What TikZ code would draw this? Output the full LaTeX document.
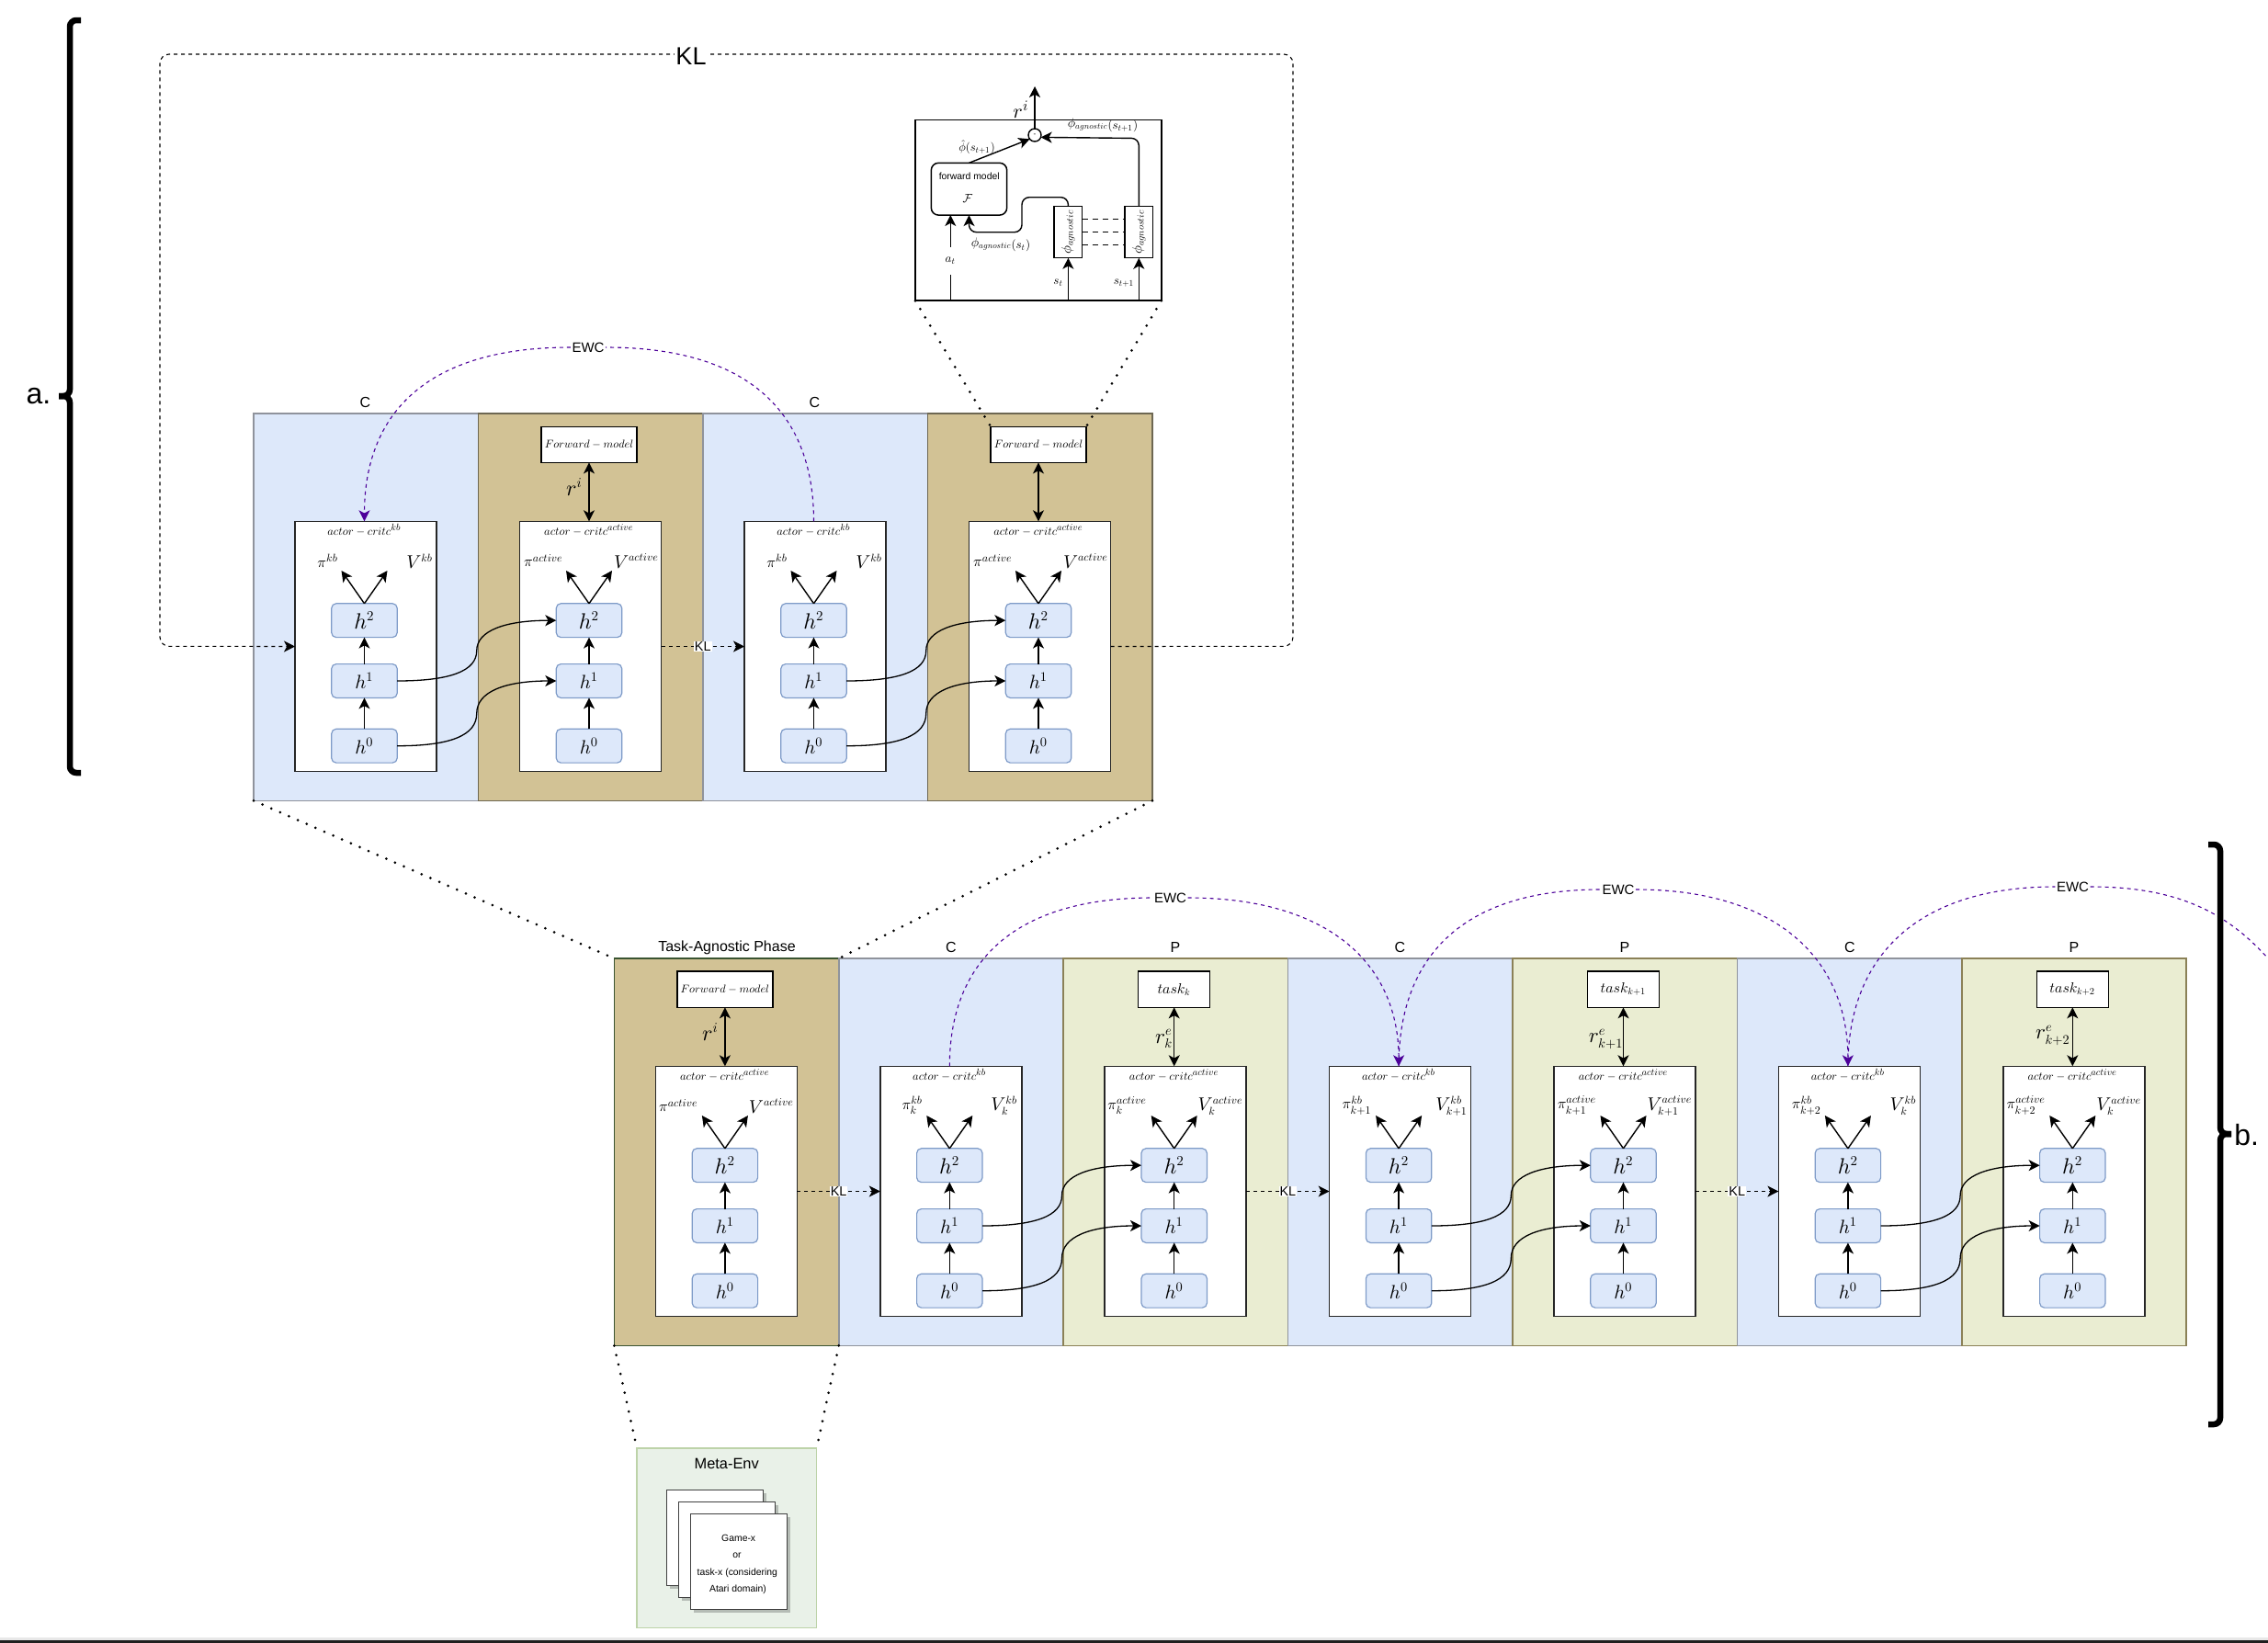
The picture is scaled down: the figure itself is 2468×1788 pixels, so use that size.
\documentclass[tikz,border=0pt]{standalone}
\usepackage{amsmath}
\usepackage[no-math]{fontspec}
\setmainfont{Liberation Sans}
\DeclareFontShape{OML}{cmm}{m}{it}{<->cmmi10}{}
\DeclareFontShape{OMS}{cmsy}{m}{n}{<->cmsy10}{}
\DeclareFontShape{OT1}{cmr}{m}{n}{<->cmr10}{}
\DeclareMathSizes{6.2}{6.2}{5.2}{4}
\DeclareMathSizes{8}{8}{6}{4.5}
\DeclareMathSizes{10}{10}{6}{4.5}
\DeclareMathSizes{10.5}{10.5}{7.2}{5}
\DeclareMathSizes{11.5}{11.5}{7.2}{5}
\DeclareMathSizes{12}{12}{7.5}{6}
\DeclareMathSizes{7.9}{7.9}{5.2}{4}
\DeclareMathSizes{7.5}{7.5}{5.2}{4}
\DeclareMathSizes{7}{7}{4.6}{3.5}
\DeclareMathSizes{6.5}{6.5}{4.7}{3.5}
\DeclareMathSizes{6.3}{6.3}{4.6}{3.5}
\DeclareMathSizes{11}{11}{8}{6}
\usetikzlibrary{arrows.meta,calc}
\definecolor{bandblue}{HTML}{DDE8FA}
\definecolor{bandtan}{HTML}{D2C295}
\definecolor{bandolive}{HTML}{EAEDD2}
\definecolor{strokeblue}{HTML}{8F939C}
\definecolor{stroketan}{HTML}{6D6752}
\definecolor{strokeolive}{HTML}{8B8157}
\definecolor{strokegreen}{HTML}{3A5431}
\definecolor{hstroke}{HTML}{7E9BC8}
\definecolor{ewcpurple}{HTML}{4C0099}
\definecolor{metafill}{HTML}{E9F1E8}
\definecolor{metastroke}{HTML}{BDD3A9}
\newcommand{\myfs}[1]{\fontsize{#1}{#1}\selectfont}
\tikzset{
  x=0.5pt,y=-0.5pt,
  >={Stealth[length=6pt,width=6pt,inset=1.6pt]},
  bandbox/.style={draw,line width=0.75pt,anchor=north west,inner sep=0pt,outer sep=0pt,minimum width=122.2pt,minimum height=210.7pt},
  cband/.style={bandbox,fill=bandblue,draw=strokeblue},
  aband/.style={bandbox,fill=bandtan,draw=stroketan},
  tagband/.style={bandbox,fill=bandtan,draw=strokegreen},
  pband/.style={bandbox,fill=bandolive,draw=strokeolive},
  acbox/.style={draw=black!85,fill=white,line width=0.75pt,anchor=north west,inner sep=0pt,outer sep=0pt,minimum width=77pt,minimum height=136.2pt},
  hbox/.style={draw=hstroke,fill=bandblue,line width=0.6pt,rounded corners=2.5pt,inner sep=0pt,outer sep=0pt,minimum width=35.7pt,minimum height=18.4pt,font=\myfs{10.5}},
  hbig/.style={font=\myfs{12}},
  titlelbl/.style={inner sep=0pt,font=\myfs{6.2}},
  pilbl/.style={inner sep=0pt,font=\myfs{8}},
  vlbl/.style={inner sep=0pt,font=\myfs{10}},
  rlbl/.style={inner sep=0pt,font=\myfs{11.5}},
  rilbl/.style={inner sep=0pt,font=\myfs{12}},
  smallbox/.style={draw=black,fill=white,line width=0.65pt,inner sep=0pt,outer sep=0pt,minimum height=19.6pt},
  fwdbox/.style={smallbox,minimum width=52pt,font=\myfs{6.1}},
  taskbox/.style={smallbox,minimum width=39pt,font=\myfs{7.9}},
  arr/.style={->,line width=0.7pt,black},
  dblarr/.style={<->,line width=0.7pt,black},
  link/.style={->,line width=0.65pt,black},
  dashlink/.style={->,line width=0.55pt,black,dash pattern=on 2pt off 2pt},
  ewc/.style={->,line width=0.55pt,ewcpurple,dash pattern=on 2pt off 2pt},
  ewcplain/.style={line width=0.55pt,ewcpurple,dash pattern=on 2pt off 2pt},
  dots/.style={line width=1.5pt,line cap=round,black,dash pattern=on 0pt off 5.25pt},
  sanslbl/.style={inner sep=0pt,font=\myfs{8}},
  kllbl/.style={fill=white,inner sep=0.5pt,font=\myfs{7.2}},
  ewclbl/.style={fill=white,inner sep=0.6pt,font=\myfs{7.5}},
  icmlbl/.style={inner sep=0pt,font=\myfs{7}},
  icmsmall/.style={inner sep=0pt,font=\myfs{6.5}},
  phibox/.style={draw=black,fill=white,line width=0.7pt,inner sep=0pt,outer sep=0pt,minimum width=15.3pt,minimum height=28.2pt},
  card/.style={draw=black!75,fill=white,line width=0.75pt,anchor=north west,inner sep=0pt,outer sep=0pt,minimum width=52.3pt,minimum height=52.2pt},
  cardshade/.style={fill=black,opacity=0.22,anchor=north west,inner sep=0pt,outer sep=0pt,minimum width=52.3pt,minimum height=52.2pt},
  cardtxt/.style={inner sep=0pt,font=\myfs{5.2}},
  bracestroke/.style={line width=3.25pt,black,rounded corners=3.5pt},
}
% name, band left, band top, band style, title sup, pi label, V label, pi x, V x
\newcommand{\acunit}[9]{%
  \node[#4] (#1b) at (#2,#3) {};
  \node[acbox] (#1a) at (#2+45,#3+117.3) {};
  \coordinate (#1c) at (#2+120.5,#3+117.3);
  \node[hbox,hbig] (#1h2) at (#2+120.5,#3+225.2) {$h^2$};
  \node[hbox] (#1h1) at (#2+120.5,#3+291) {$h^1$};
  \node[hbox] (#1h0) at (#2+120.5,#3+361.7) {$h^0$};
  \draw[arr] (#1h1) -- (#1h2);
  \draw[arr] (#1h0) -- (#1h1);
  \coordinate (#1pl) at (#2+95.5,#3+171);
  \coordinate (#1pr) at (#2+145.5,#3+171);
  \draw[arr] (#1h2.north) -- (#1pl);
  \draw[arr] (#1h2.north) -- (#1pr);
  \node[titlelbl] (#1tt) at (#2+120.5,#3+127) {$actor-critc^{#5}$};
  \node[pilbl] (#1pi) at (#2+#8,#3+160) {$#6$};
  \node[vlbl] (#1v) at (#2+#9,#3+160.5) {$#7$};
}
\newcommand{\crosslink}[2]{%
  \draw[link] (#1h1.east) .. controls +(58,0) and +(0,22) .. ($(#1h1.east)!.5!(#2h2.west)$) .. controls +(0,-22) and +(-55,0) .. (#2h2.west);
  \draw[link] (#1h0.east) .. controls +(58,0) and +(0,24) .. ($(#1h0.east)!.5!(#2h1.west)$) .. controls +(0,-24) and +(-55,0) .. (#2h1.west);
}
\begin{document}
\begin{tikzpicture}
\useasboundingbox (0,0) rectangle (2468,1788);
% bottom screen edge
\fill[black!9] (0,1782) rectangle (2468,1785);
\fill[black!88] (0,1785) rectangle (2468,1788);

% ---------- top row ----------
\acunit{a1}{276}{450}{cband}{kb}{\pi^{kb}}{V^{kb}}{80.7}{180.7}
\acunit{a2}{520.5}{450}{aband}{active}{\pi^{active}}{V^{active}}{71}{172}
\acunit{a3}{765}{450}{cband}{kb}{\pi^{kb}}{V^{kb}}{80.7}{180.7}
\acunit{a4}{1009.5}{450}{aband}{active}{\pi^{active}}{V^{active}}{71}{172}
\node[fwdbox] (a2f) at (520.5+120.5,483.8) {$Forward-model$};
\node[fwdbox] (a4f) at (1009.5+120.5,483.8) {$Forward-model$};
\draw[dblarr] (a2f.south) -- (a2c);
\draw[dblarr] (a4f.south) -- (a4c);
\node[rilbl] (a2r) at (625,530) {$r^i$};
\crosslink{a1}{a2}
\crosslink{a3}{a4}
\draw[dashlink] (a2a.east) -- node[kllbl] (klA) {KL} (a3a.west);
\node[sanslbl] (a1l) at (397.5,438) {C};
\node[sanslbl] (a3l) at (886.5,438) {C};

% big KL loop
\coordinate (k1) at (1407,703.3);
\coordinate (k2) at (1407,59);
\coordinate (k3) at (174,59);
\coordinate (k4) at (174,703.3);
\draw[dashlink,rounded corners=5pt] (a4a.east) -- (k1) -- (k2) -- (k3) -- (k4) -- (a1a.west);
\node[fill=white,inner sep=0.5pt,font=\myfs{13.5}] (klbig) at (752,61) {KL};

% top EWC
\node[ewclbl] (ewc0) at (640,378) {EWC};
\draw[ewcplain] (a3c) .. controls +(0,-110) and +(165,0) .. (ewc0.east);
\draw[ewc] (ewc0.west) .. controls +(-165,0) and +(0,-110) .. (a1c);

% ---------- ICM box ----------
\node[draw=black,fill=white,line width=0.75pt,anchor=north west,inner sep=0pt,outer sep=0pt,minimum width=133.9pt,minimum height=98.5pt] (icm) at (996,130.3) {};
\draw[black,line width=1pt] (icm.south west) -- (icm.south east);
\node[draw=black,fill=white,circle,line width=0.7pt,inner sep=0pt,outer sep=0pt,minimum size=7pt,font=\myfs{4}] (cir) at (1126,147) {-};
\node[draw=black,fill=white,line width=0.75pt,rounded corners=4pt,inner sep=0pt,outer sep=0pt,minimum width=41.2pt,minimum height=28.4pt] (fm) at (1054.5,205.7) {};
\node[inner sep=0pt,font=\myfs{5.2}] (fmt) at (1054.7,191.3) {forward model};
\node[inner sep=0pt,font=\myfs{6.5}] (fmf) at (1053,216) {$\mathcal{F}$};
\node[phibox] (p1) at (1162.4,252.5) {\rotatebox{90}{\myfs{7.5}$\phi_{agnostic}$}};
\node[phibox] (p2) at (1239.3,252.5) {\rotatebox{90}{\myfs{7.5}$\phi_{agnostic}$}};
\foreach \d in {7,0,-7}{
  \draw[black,line width=0.6pt,dash pattern=on 3.2pt off 2.3pt] ([yshift=\d pt]p1.east) -- ([yshift=\d pt]p2.west);
}
\coordinate (rtop) at (1126,94);
\draw[arr] (cir.north) -- (rtop);
\node[inner sep=0pt,font=\myfs{11}] (rlab) at (1111,119) {$r^i$};
\draw[arr] (fm.north) -- (cir.218);
\node[inner sep=0pt,font=\myfs{6.3}] (phihat) at (1063,160) {$\hat{\phi}(s_{t+1})$};
\coordinate (c1) at (1162.4,214.7);
\coordinate (c2) at (1112,214.7);
\coordinate (c3) at (1112,252.7);
\coordinate (c4) at (1054.5,252.7);
\draw[arr,rounded corners=4pt] (p1.north) -- (c1) -- (c2) -- (c3) -- (c4) -- (fm.south);
\coordinate (c5) at (1239.3,150.5);
\draw[arr,rounded corners=4pt] (p2.north) -- (c5) -- (cir.-20);
\node[icmlbl] (phis) at (1089,266) {$\phi_{agnostic}$\raisebox{-1pt}{\myfs{6.5}$(s_t)$}};
\node[icmlbl] (phin) at (1200,136) {$\phi_{agnostic}$\raisebox{-1pt}{\myfs{6.5}$(s_{t+1})$}};
\coordinate (at0) at (1034.3,327.3);
\coordinate (at1) at (1034.3,234);
\draw[arr] (at0) -- (at1);
\node[icmsmall,fill=white,minimum height=15pt,minimum width=9pt] (atl) at (1034.3,283.5) {$a_t$};
\coordinate (st0) at (p1.south |- icm.south);
\coordinate (sn0) at (p2.south |- icm.south);
\draw[arr] (st0) -- (p1.south);
\draw[arr] (sn0) -- (p2.south);
\node[icmsmall] (stl) at (1151.7,308) {$s_t$};
\node[icmsmall] (snl) at (1223,307.7) {$s_{t+1}$};

% ---------- bottom row ----------
\acunit{b1}{668.4}{1043}{tagband}{active}{\pi^{active}}{V^{active}}{70}{171}
\acunit{b2}{912.8}{1043}{cband}{kb}{\pi_k^{kb}}{V_k^{kb}}{80}{180}
\acunit{b3}{1157.2}{1043}{pband}{active}{\pi_k^{active}}{V_k^{active}}{69.5}{171}
\acunit{b4}{1401.6}{1043}{cband}{kb}{\pi_{k+1}^{kb}}{V_{k+1}^{kb}}{75}{178}
\acunit{b5}{1646}{1043}{pband}{active}{\pi_{k+1}^{active}}{V_{k+1}^{active}}{70}{171}
\acunit{b6}{1890.4}{1043}{cband}{kb}{\pi_{k+2}^{kb}}{V_k^{kb}}{75.5}{180.6}
\acunit{b7}{2134.8}{1043}{pband}{active}{\pi_{k+2}^{active}}{V_k^{active}}{70}{171}
\node[fwdbox] (b1f) at (668.4+120.5,1076.7) {$Forward-model$};
\node[taskbox] (b3f) at (1157.2+120.5,1076.7) {$task_k$};
\node[taskbox] (b5f) at (1646+120.5,1076.7) {$task_{k+1}$};
\node[taskbox] (b7f) at (2134.8+120.5,1076.7) {$task_{k+2}$};
\draw[dblarr] (b1f.south) -- (b1c);
\draw[dblarr] (b3f.south) -- (b3c);
\draw[dblarr] (b5f.south) -- (b5c);
\draw[dblarr] (b7f.south) -- (b7c);
\node[rilbl] (b1r) at (773,1123) {$r^i$};
\node[rlbl] (b3r) at (1266.7,1130.7) {$r_k^e$};
\node[rlbl] (b5r) at (1747.7,1130.7) {$r_{k+1}^e$};
\node[rlbl] (b7r) at (2234,1127) {$r_{k+2}^e$};
\crosslink{b2}{b3}
\crosslink{b4}{b5}
\crosslink{b6}{b7}
\draw[dashlink] (b1a.east) -- node[kllbl] (klB) {KL} (b2a.west);
\draw[dashlink] (b3a.east) -- node[kllbl] (klC) {KL} (b4a.west);
\draw[dashlink] (b5a.east) -- node[kllbl] (klD) {KL} (b6a.west);
\node[sanslbl] (b1l) at (791,1031) {Task-Agnostic Phase};
\node[sanslbl] (b2l) at (1035,1031) {C};
\node[sanslbl] (b3l) at (1279,1031) {P};
\node[sanslbl] (b4l) at (1523.5,1031) {C};
\node[sanslbl] (b5l) at (1768,1031) {P};
\node[sanslbl] (b6l) at (2013,1031) {C};
\node[sanslbl] (b7l) at (2257,1031) {P};

% bottom EWC
\node[ewclbl] (ewc1) at (1273.5,977) {EWC};
\node[ewclbl] (ewc2) at (1761,968) {EWC};
\node[ewclbl] (ewc3) at (2255.5,965) {EWC};
\draw[ewcplain] (b2c) .. controls +(0,-110) and +(-155,0) .. (ewc1.west);
\draw[ewc] (ewc1.east) .. controls +(155,0) and +(0,-110) .. (b4c);
\draw[ewcplain] (b4c) .. controls +(0,-115) and +(-155,0) .. (ewc2.west);
\draw[ewc] (ewc2.east) .. controls +(155,0) and +(0,-115) .. (b6c);
\draw[ewcplain] (b6c) .. controls +(0,-115) and +(-155,0) .. (ewc3.west);
\coordinate (ewcend) at (2468,1043);
\draw[ewcplain] (ewc3.east) .. controls +(95,0) and +(-45,-50) .. (ewcend);

% ---------- Meta-Env ----------
\node[draw=metastroke,fill=metafill,line width=0.6pt,anchor=north west,inner sep=0pt,outer sep=0pt,minimum width=97.8pt,minimum height=97.7pt] (meta) at (693,1576) {};
\node[sanslbl,font=\myfs{8.2}] (metal) at (790.7,1593.3) {Meta-Env};
\node[cardshade] at (729.2,1624.8) {};
\node[card] (card1) at (725.7,1621.3) {};
\node[cardshade] at (742.2,1637.8) {};
\node[card] (card2) at (738.7,1634.3) {};
\node[cardshade] at (755.2,1650.8) {};
\node[card] (card3) at (751.7,1647.3) {};
\node[cardtxt] (t1) at (803.7,1674.3) {Game-x};
\node[cardtxt] (t2) at (802,1692.7) {or};
\node[cardtxt] (t3) at (802.3,1711.3) {task-x (considering};
\node[cardtxt] (t4) at (803,1729.3) {Atari domain)};

% ---------- dotted zoom lines ----------
\draw[dots] (a1b.south west) -- (b1b.north west);
\draw[dots] (a4b.south east) -- (b1b.north east);
\draw[dots] (icm.south west) -- (a4f.north west);
\draw[dots] (icm.south east) -- (a4f.north east);
\draw[dots] (b1b.south west) -- (meta.north west);
\draw[dots] (b1b.south east) -- (meta.north east);

% ---------- braces ----------
\coordinate (ba1) at (88,22);
\coordinate (ba2) at (76,22);
\coordinate (ba3) at (76,431);
\coordinate (ba4) at (64,431);
\coordinate (ba5) at (76,841);
\coordinate (ba6) at (88,841);
\draw[bracestroke] (ba1) -- (ba2) -- (ba3) -- (ba4);
\draw[bracestroke] (ba4) -- (ba3) -- (ba5) -- (ba6);
\node[inner sep=0pt,font=\myfs{16}] (alab) at (42,431) {a.};
\coordinate (bb1) at (2403,919);
\coordinate (bb2) at (2416,919);
\coordinate (bb3) at (2416,1234);
\coordinate (bb4) at (2428,1234);
\coordinate (bb5) at (2416,1550);
\coordinate (bb6) at (2403,1550);
\draw[bracestroke] (bb1) -- (bb2) -- (bb3) -- (bb4);
\draw[bracestroke] (bb4) -- (bb3) -- (bb5) -- (bb6);
\node[inner sep=0pt,font=\myfs{16}] (blab) at (2444.6,1235) {b.};
\end{tikzpicture}
\end{document}
